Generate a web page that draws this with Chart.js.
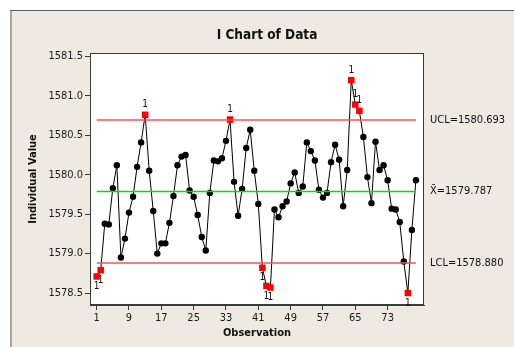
<!DOCTYPE html>
<html>
<head>
<meta charset="utf-8">
<title>I Chart of Data</title>
<script src="https://cdn.jsdelivr.net/npm/chart.js@4.4.1/dist/chart.umd.min.js"></script>
<style>
  html, body { margin: 0; padding: 0; background: #ffffff; }
  canvas { display: block; }
</style>
</head>
<body>
<canvas id="ichart" width="514" height="347"></canvas>
<script>
// Individual measurements, in observation order
const values = [
  1578.71, 1578.79, 1579.38, 1579.37, 1579.83, 1580.12, 1578.95, 1579.19, 1579.52, 1579.72,
  1580.10, 1580.41, 1580.76, 1580.05, 1579.54, 1579.00, 1579.13, 1579.13, 1579.39, 1579.73,
  1580.12, 1580.23, 1580.25, 1579.80, 1579.72, 1579.49, 1579.21, 1579.04, 1579.77, 1580.18,
  1580.17, 1580.21, 1580.43, 1580.70, 1579.91, 1579.48, 1579.82, 1580.34, 1580.57, 1580.05,
  1579.63, 1578.82, 1578.59, 1578.57, 1579.56, 1579.46, 1579.60, 1579.66, 1579.89, 1580.03,
  1579.77, 1579.85, 1580.41, 1580.30, 1580.18, 1579.81, 1579.71, 1579.77, 1580.16, 1580.38,
  1580.19, 1579.60, 1580.06, 1581.20, 1580.89, 1580.81, 1580.48, 1579.97, 1579.64, 1580.42,
  1580.06, 1580.12, 1579.93, 1579.57, 1579.56, 1579.40, 1578.90, 1578.50, 1579.30, 1579.93
];

// Control limits
const UCL = 1580.693;
const MEAN = 1579.787;
const LCL = 1578.880;

// Axis ticks
const xTicks = [1, 9, 17, 25, 33, 41, 49, 57, 65, 73];
const yTicks = [1578.5, 1579.0, 1579.5, 1580.0, 1580.5, 1581.0, 1581.5];

const FONT = "'DejaVu Sans Condensed', 'DejaVu Sans', sans-serif";
const PANEL = '#eeeae1';

const points = values.map((v, i) => ({ x: i + 1, y: v }));
const firstObs = 1;
const lastObs = values.length;
const outOfControl = v => v > UCL || v < LCL;

// Panel background, frame around the plot, title and limit labels
const decorations = {
  id: 'decorations',
  beforeDraw(chart) {
    const { ctx, chartArea: a, width, height } = chart;
    ctx.save();
    ctx.fillStyle = '#ffffff';
    ctx.fillRect(0, 0, width, height);
    ctx.fillStyle = PANEL;
    ctx.fillRect(11, 10, width - 11, height - 10);
    ctx.fillStyle = '#a8a8a8';
    ctx.fillRect(10, 10, 2, height - 10);
    ctx.fillStyle = '#606060';
    ctx.fillRect(10, 10, width - 10, 1);
    ctx.fillStyle = '#ffffff';
    ctx.fillRect(a.left, a.top, a.right - a.left, a.bottom - a.top);
    ctx.restore();
  },
  afterDraw(chart) {
    const { ctx, chartArea: a, scales } = chart;
    ctx.save();
    ctx.strokeStyle = '#3a3a3a';
    ctx.lineWidth = 1;
    ctx.strokeRect(a.left + 0.5, a.top + 0.5, a.right - a.left - 1, a.bottom - a.top - 1);

    ctx.fillStyle = '#111111';
    ctx.font = 'bold 13.5px ' + FONT;
    ctx.textAlign = 'center';
    ctx.textBaseline = 'middle';
    ctx.fillText('I Chart of Data', 267, 35);

    ctx.font = '11px ' + FONT;
    ctx.textAlign = 'left';
    const lx = a.right + 6;
    ctx.fillText('UCL=' + UCL.toFixed(3), lx, scales.y.getPixelForValue(UCL));
    ctx.fillText('X\u0304=' + MEAN.toFixed(3), lx, scales.y.getPixelForValue(MEAN));
    ctx.fillText('LCL=' + LCL.toFixed(3), lx, scales.y.getPixelForValue(LCL));

    // test-1 flags next to points beyond the limits
    const meta = chart.getDatasetMeta(3);
    ctx.font = '10px ' + FONT;
    ctx.textAlign = 'center';
    values.forEach((v, i) => {
      if (!outOfControl(v)) return;
      const el = meta.data[i];
      const dy = v > UCL ? -10 : 10;
      ctx.fillText('1', el.x, el.y + dy);
    });
    ctx.restore();
  }
};

const limitLine = (y, color) => ({
  data: [{ x: firstObs, y }, { x: lastObs, y }],
  borderColor: color,
  borderWidth: 1.5,
  pointRadius: 0,
  showLine: true,
  fill: false
});

new Chart(document.getElementById('ichart'), {
  type: 'scatter',
  data: {
    datasets: [
      limitLine(UCL, 'rgb(255,80,80)'),
      limitLine(MEAN, 'rgb(0,225,0)'),
      limitLine(LCL, 'rgb(255,80,80)'),
      {
        data: points,
        showLine: true,
        borderColor: '#000000',
        borderWidth: 1,
        pointStyle: ctx => outOfControl(ctx.raw.y) ? 'rect' : 'circle',
        pointRadius: ctx => outOfControl(ctx.raw.y) ? 4.6 : 3.2,
        pointBackgroundColor: ctx => outOfControl(ctx.raw.y) ? '#ff0000' : '#000000',
        pointBorderColor: ctx => outOfControl(ctx.raw.y) ? '#ff0000' : '#000000',
        pointBorderWidth: 0,
        pointHoverRadius: 0
      }
    ]
  },
  options: {
    responsive: false,
    animation: false,
    events: [],
    layout: { padding: { left: 22, top: 53, right: 90, bottom: 0 } },
    plugins: {
      legend: { display: false },
      tooltip: { enabled: false },
      title: { display: false }
    },
    scales: {
      x: {
        type: 'linear',
        min: -0.65,
        max: 82,
        afterFit(scale) { scale.height = 42; },
        afterBuildTicks(scale) { scale.ticks = xTicks.map(v => ({ value: v })); },
        ticks: {
          color: '#1a1a1a',
          font: { family: FONT, size: 11 },
          padding: 2,
          maxRotation: 0,
          autoSkip: false
        },
        grid: { drawOnChartArea: false, drawTicks: true, tickLength: 5, color: '#3a3a3a' },
        border: { display: true, color: '#3a3a3a' },
        title: {
          display: true,
          text: 'Observation',
          color: '#111111',
          font: { family: FONT, size: 11, weight: 'bold' },
          padding: { top: 0, bottom: 7.4 }
        }
      },
      y: {
        type: 'linear',
        min: 1578.348,
        max: 1581.544,
        afterFit(scale) { scale.width = 68; },
        afterBuildTicks(scale) { scale.ticks = yTicks.map(v => ({ value: v })); },
        ticks: {
          color: '#1a1a1a',
          font: { family: FONT, size: 11 },
          padding: 2,
          callback: v => v.toFixed(1)
        },
        grid: { drawOnChartArea: false, drawTicks: true, tickLength: 5, color: '#3a3a3a' },
        border: { display: true, color: '#3a3a3a' },
        title: {
          display: true,
          text: 'Individual Value',
          color: '#111111',
          font: { family: FONT, size: 11, weight: 'bold' },
          padding: { top: 4.4, bottom: 0 }
        }
      }
    }
  },
  plugins: [decorations]
});
</script>
</body>
</html>
